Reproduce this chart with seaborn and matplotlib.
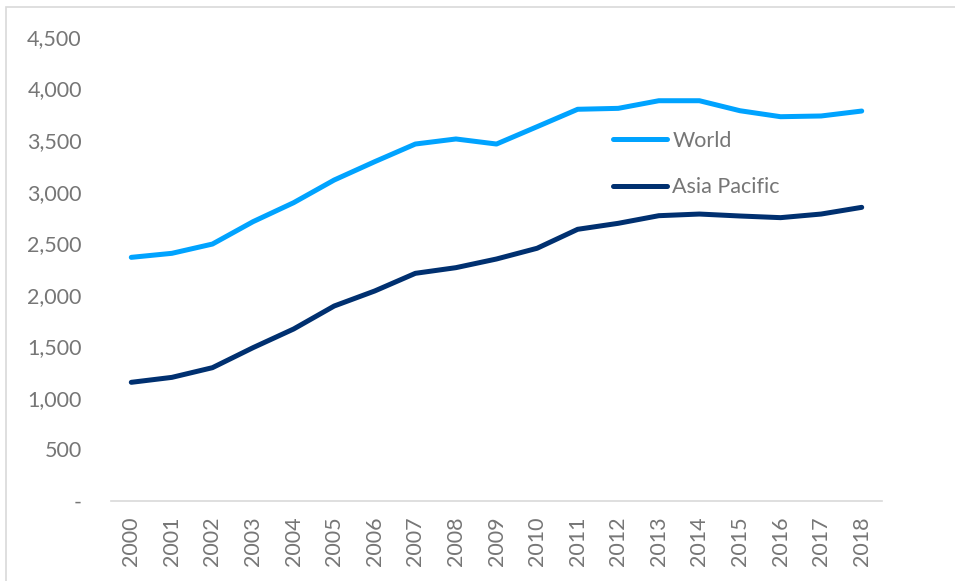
import matplotlib
matplotlib.use("Agg")
import matplotlib.pyplot as plt
import seaborn as sns
import pandas as pd
from matplotlib.patches import Rectangle
from matplotlib.ticker import FuncFormatter

years = [str(y) for y in range(2000, 2019)]
world = [2363, 2402, 2492, 2709, 2893, 3113, 3291, 3462, 3511, 3462,
         3630, 3799, 3808, 3882, 3882, 3785, 3727, 3734, 3782]
asia_pacific = [1151, 1199, 1293, 1487, 1668, 1891, 2037, 2208, 2263, 2347,
                2451, 2635, 2693, 2767, 2783, 2764, 2748, 2783, 2848]
series_names = ["World", "Asia Pacific"]
colors = ["#00A3FF", "#003070"]
yticks = [0, 500, 1000, 1500, 2000, 2500, 3000, 3500, 4000, 4500]

df = pd.DataFrame({
    "Year": years * 2,
    "Value": world + asia_pacific,
    "Series": [series_names[0]] * len(years) + [series_names[1]] * len(years),
})

sns.set_style("white")
plt.rcParams["font.family"] = ["Lato", "DejaVu Sans"]

W, H = 955, 581
fig = plt.figure(figsize=(W / 100, H / 100), dpi=100)
ax = fig.add_axes([111 / W, (H - 501) / H, (882 - 111) / W, (501 - 37) / H])

sns.lineplot(data=df, x="Year", y="Value", hue="Series", palette=colors,
             linewidth=3.6, sort=False, ax=ax, solid_capstyle="round")

ax.set_xlim(-0.5, len(years) - 0.5)
ax.set_ylim(0, 4500)
ax.set_yticks(yticks)
ax.yaxis.set_major_formatter(FuncFormatter(lambda v, p: "-" if v == 0 else f"{int(v):,}"))
ax.set_xlabel("")
ax.set_ylabel("")
grey = "#767676"
ax.tick_params(axis="y", length=0, pad=21, labelsize=15.5, labelcolor=grey)
ax.tick_params(axis="x", length=0, pad=11, labelsize=15.5, labelcolor=grey, labelrotation=90)
for lbl in ax.get_yticklabels():
    lbl.set_verticalalignment("center_baseline")
for s in ["top", "right", "left"]:
    ax.spines[s].set_visible(False)
ax.spines["bottom"].set_color("#D9D9D9")
ax.spines["bottom"].set_linewidth(1.2)

leg = ax.legend(loc="center left", bbox_to_anchor=(613 / W, 1 - 164 / H),
                bbox_transform=fig.transFigure, frameon=False, fontsize=15.5,
                handlelength=2.5, handletextpad=0.25, labelspacing=1.25,
                borderpad=0, borderaxespad=0)
for t in leg.get_texts():
    t.set_color(grey)
for h in leg.get_lines():
    h.set_linewidth(3.6)
    h.set_solid_capstyle("round")

fig.add_artist(Rectangle((5.5 / W, -0.05), 1.0, 1 - 7 / H + 0.05,
                         transform=fig.transFigure, fill=False,
                         edgecolor="#D9D9D9", linewidth=1.2))

fig.savefig("out.png", dpi=100, facecolor="white")
